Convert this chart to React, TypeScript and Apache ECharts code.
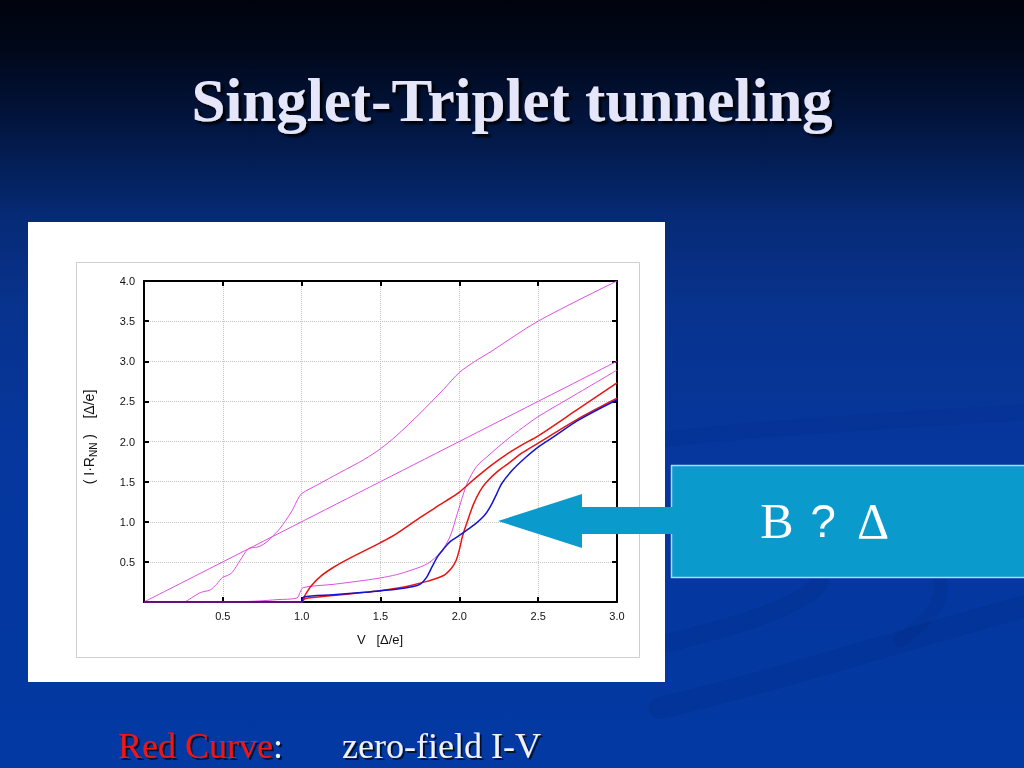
import React, { useEffect, useRef } from "react";
import * as echarts from "echarts";

// ---- data (V in Δ/e, I·R_NN in Δ/e) ----
const xTickValues = [0.5, 1.0, 1.5, 2.0, 2.5, 3.0];
const yTickValues = [0.5, 1.0, 1.5, 2.0, 2.5, 3.0, 3.5, 4.0];

const ohmicLine: number[][] = [[0, 0], [3, 3]];

const upperMagenta: number[][] = [
  [0, 0], [0.25, 0], [0.3, 0.05], [0.35, 0.11], [0.38, 0.13], [0.42, 0.15], [0.46, 0.22],
  [0.5, 0.31], [0.53, 0.33], [0.56, 0.37], [0.61, 0.52], [0.66, 0.66], [0.7, 0.68],
  [0.73, 0.69], [0.78, 0.75], [0.82, 0.83], [0.86, 0.91], [0.9, 1.02], [0.94, 1.14],
  [0.97, 1.26], [1.0, 1.35], [1.1, 1.46], [1.24, 1.61], [1.4, 1.78], [1.5, 1.91],
  [1.6, 2.07], [1.75, 2.35], [1.9, 2.65], [2.0, 2.86], [2.1, 3.0], [2.2, 3.12],
  [2.5, 3.5], [3.0, 4.0]
];

const lowerMagenta: number[][] = [
  [0, 0], [0.5, 0], [0.7, 0.01], [0.85, 0.03], [0.97, 0.05], [0.99, 0.12], [1.01, 0.18],
  [1.2, 0.22], [1.4, 0.27], [1.5, 0.3], [1.6, 0.34], [1.7, 0.4], [1.8, 0.48],
  [1.88, 0.62], [1.94, 0.81], [1.99, 1.12], [2.05, 1.48], [2.11, 1.69], [2.17, 1.8],
  [2.3, 2.02], [2.4, 2.17], [2.5, 2.31], [2.75, 2.6], [3.0, 2.89]
];

const redZeroField: number[][] = [
  [0, 0], [1.0, 0], [1.02, 0.08], [1.06, 0.2], [1.12, 0.32], [1.2, 0.43], [1.3, 0.54],
  [1.4, 0.64], [1.5, 0.74], [1.6, 0.85], [1.75, 1.05], [1.9, 1.24], [2.0, 1.37],
  [2.1, 1.54], [2.2, 1.7], [2.3, 1.84], [2.4, 1.96], [2.5, 2.07], [2.75, 2.4], [3.0, 2.73]
];

const redField: number[][] = [
  [0, 0], [1.0, 0], [1.02, 0.04], [1.2, 0.08], [1.4, 0.12], [1.5, 0.14], [1.6, 0.17],
  [1.7, 0.21], [1.8, 0.26], [1.9, 0.33], [1.95, 0.42], [1.98, 0.52], [2.0, 0.65],
  [2.02, 0.82], [2.05, 1.0], [2.09, 1.22], [2.13, 1.38], [2.17, 1.49], [2.25, 1.64],
  [2.32, 1.74], [2.4, 1.86], [2.5, 1.98], [2.6, 2.1], [2.75, 2.28], [3.0, 2.54]
];

const blueCurve: number[][] = [
  [0, 0], [1.0, 0], [1.01, 0.06], [1.2, 0.09], [1.4, 0.12], [1.5, 0.14], [1.6, 0.16],
  [1.7, 0.19], [1.75, 0.22], [1.79, 0.3], [1.83, 0.45], [1.86, 0.56], [1.9, 0.66],
  [1.94, 0.75], [2.0, 0.83], [2.05, 0.9], [2.1, 0.97], [2.16, 1.08], [2.2, 1.2],
  [2.24, 1.36], [2.27, 1.48], [2.34, 1.65], [2.42, 1.8], [2.5, 1.93], [2.6, 2.06],
  [2.75, 2.26], [3.0, 2.52]
];

const MAGENTA = "#de4ee0";
const RED = "#e81515";
const BLUE = "#1414cc";

const labelFmt = (v: number) => (xTickValues.includes(v) || yTickValues.includes(v) ? v.toFixed(1) : "");

export default function App() {
  const ref = useRef<HTMLDivElement>(null);

  useEffect(() => {
    document.body.style.margin = "0";
    if (!ref.current) return;
    const chart = echarts.init(ref.current, null, { renderer: "svg" });

    const lineSeries = (data: number[][], color: string, width: number) => ({
      type: "line",
      data,
      showSymbol: false,
      smooth: 0.3,
      lineStyle: { color, width },
      itemStyle: { color },
      z: 3,
    });

    const baseAxisLine = { show: true, onZero: false, lineStyle: { color: "#000", width: 2 } };
    const baseTick = { show: true, inside: true, length: 5, lineStyle: { color: "#000", width: 2 } };
    const splitDotted = { show: true, lineStyle: { color: "#c4c4c4", type: "dotted", width: 1 } };
    const labelStyle = { color: "#111", fontSize: 11, fontFamily: "Liberation Sans, Arial, sans-serif" };

    const swirl = (x1: number, y1: number, cx1: number, cy1: number, cx2: number, cy2: number, x2: number, y2: number, w: number, a: number) => ({
      type: "bezierCurve",
      z: -90,
      silent: true,
      shape: { x1, y1, cpx1: cx1, cpy1: cy1, cpx2: cx2, cpy2: cy2, x2, y2 },
      style: { stroke: `rgba(0,30,110,${a})`, lineWidth: w, fill: "none", lineCap: "round" },
    });

    chart.setOption({
      animation: false,
      grid: { left: 144, top: 281, width: 473, height: 321, show: false, containLabel: false },
      xAxis: [
        {
          type: "value", min: 0, max: 3, interval: 0.5, position: "bottom",
          axisLine: baseAxisLine, axisTick: baseTick,
          axisLabel: { ...labelStyle, margin: 8, formatter: (v: number) => (v === 0 ? "" : labelFmt(v)) },
          splitLine: splitDotted,
        },
        {
          type: "value", min: 0, max: 3, interval: 0.5, position: "top",
          axisLine: baseAxisLine, axisTick: baseTick, axisLabel: { show: false }, splitLine: { show: false },
        },
      ],
      yAxis: [
        {
          type: "value", min: 0, max: 4, interval: 0.5, position: "left",
          axisLine: baseAxisLine, axisTick: baseTick,
          axisLabel: { ...labelStyle, margin: 9, formatter: (v: number) => (v === 0 ? "" : labelFmt(v)) },
          splitLine: splitDotted,
        },
        {
          type: "value", min: 0, max: 4, interval: 0.5, position: "right",
          axisLine: baseAxisLine, axisTick: baseTick, axisLabel: { show: false }, splitLine: { show: false },
        },
      ],
      series: [
        lineSeries(ohmicLine, MAGENTA, 1),
        lineSeries(upperMagenta, MAGENTA, 1),
        lineSeries(lowerMagenta, MAGENTA, 1),
        lineSeries(redZeroField, RED, 1.5),
        lineSeries(redField, RED, 1.5),
        lineSeries(blueCurve, BLUE, 1.5),
      ],
      graphic: [
        {
          type: "rect", z: -100, silent: true,
          shape: { x: 0, y: 0, width: 1024, height: 768 },
          style: {
            fill: new echarts.graphic.LinearGradient(0, 0, 0, 1, [
              { offset: 0, color: "#00030e" },
              { offset: 0.06, color: "#000718" },
              { offset: 0.16, color: "#02153f" },
              { offset: 0.28, color: "#062a75" },
              { offset: 0.4, color: "#08338e" },
              { offset: 0.6, color: "#05379e" },
              { offset: 1, color: "#0339a3" },
            ]),
          },
        },
        swirl(660, 645, 720, 630, 800, 610, 820, 582, 18, 0.16),
        swirl(660, 708, 780, 680, 900, 640, 1030, 605, 22, 0.16),
        swirl(900, 640, 930, 620, 945, 600, 940, 580, 14, 0.12),
        swirl(660, 440, 760, 428, 900, 420, 1030, 412, 16, 0.08),
        // white panel
        {
          type: "rect", z: -50, silent: true,
          shape: { x: 28, y: 222, width: 637, height: 460 },
          style: { fill: "#ffffff" },
        },
        {
          type: "rect", z: -49, silent: true,
          shape: { x: 76.5, y: 262.5, width: 563, height: 395 },
          style: { fill: "none", stroke: "#cfcfcf", lineWidth: 1 },
        },
        // axis names
        {
          type: "text", z: 5, silent: true,
          x: 89, y: 437, rotation: Math.PI / 2,
          style: {
            text: "( I·R{sub|NN} )    [Δ/e]",
            fill: "#111", fontSize: 14, fontFamily: "Liberation Sans, Arial, sans-serif",
            align: "center", verticalAlign: "middle",
            rich: { sub: { fontSize: 10, padding: [8, 0, 0, 0], fill: "#111", fontFamily: "Liberation Sans, Arial, sans-serif" } },
          },
        },
        {
          type: "text", z: 5, silent: true,
          x: 380, y: 639,
          style: {
            text: "V   [Δ/e]", fill: "#111", fontSize: 13,
            fontFamily: "Liberation Sans, Arial, sans-serif", align: "center", verticalAlign: "middle",
          },
        },
        // title
        {
          type: "text", z: 5, silent: true,
          x: 512, y: 100,
          style: {
            text: "Singlet-Triplet tunneling",
            fill: "#e6e6fa", fontSize: 61, fontWeight: "bold",
            fontFamily: "Liberation Serif, Times New Roman, serif",
            align: "center", verticalAlign: "middle",
            textShadowColor: "rgba(0,0,0,0.9)", textShadowOffsetX: 3, textShadowOffsetY: 3, textShadowBlur: 2,
          },
        },
        // callout box
        {
          type: "rect", z: 20, silent: true,
          shape: { x: 671.5, y: 465.5, width: 360, height: 112 },
          style: { fill: "#0a9bcc", stroke: "#a8dcef", lineWidth: 1.5 },
        },
        {
          type: "polygon", z: 21, silent: true,
          shape: { points: [[498, 521], [582, 494], [582, 507], [674, 507], [674, 534], [582, 534], [582, 548]] },
          style: { fill: "#0a9bcc" },
        },
        {
          type: "text", z: 22, silent: true, x: 777, y: 521,
          style: { text: "B", fill: "#ffffff", fontSize: 50, fontFamily: "Liberation Serif, serif", align: "center", verticalAlign: "middle" },
        },
        {
          type: "text", z: 22, silent: true, x: 823, y: 521,
          style: { text: "?", fill: "#ffffff", fontSize: 46, fontFamily: "Liberation Sans, Arial, sans-serif", align: "center", verticalAlign: "middle" },
        },
        {
          type: "text", z: 22, silent: true, x: 873, y: 521,
          style: { text: "Δ", fill: "#ffffff", fontSize: 50, fontFamily: "Liberation Serif, serif", align: "center", verticalAlign: "middle" },
        },
        // bottom caption
        {
          type: "text", z: 5, silent: true, x: 118, y: 746,
          style: {
            text: "{r|Red Curve}{w|:}",
            fontSize: 36, fontFamily: "Liberation Serif, serif", align: "left", verticalAlign: "middle",
            textShadowColor: "rgba(0,0,0,0.7)", textShadowOffsetX: 2, textShadowOffsetY: 2, textShadowBlur: 1,
            rich: {
              r: { fill: "#f01818", fontSize: 36, fontFamily: "Liberation Serif, serif", textShadowColor: "rgba(0,0,0,0.7)", textShadowOffsetX: 2, textShadowOffsetY: 2 },
              w: { fill: "#f0f0ff", fontSize: 36, fontFamily: "Liberation Serif, serif", textShadowColor: "rgba(0,0,0,0.7)", textShadowOffsetX: 2, textShadowOffsetY: 2 },
            },
          },
        },
        {
          type: "text", z: 5, silent: true, x: 342, y: 746,
          style: {
            text: "zero-field I-V", fill: "#f0f0ff",
            fontSize: 36, fontFamily: "Liberation Serif, serif", align: "left", verticalAlign: "middle",
            textShadowColor: "rgba(0,0,0,0.7)", textShadowOffsetX: 2, textShadowOffsetY: 2, textShadowBlur: 1,
          },
        },
      ],
    });

    return () => chart.dispose();
  }, []);

  return <div ref={ref} style={{ position: "fixed", left: 0, top: 0, width: 1024, height: 768 }} />;
}
